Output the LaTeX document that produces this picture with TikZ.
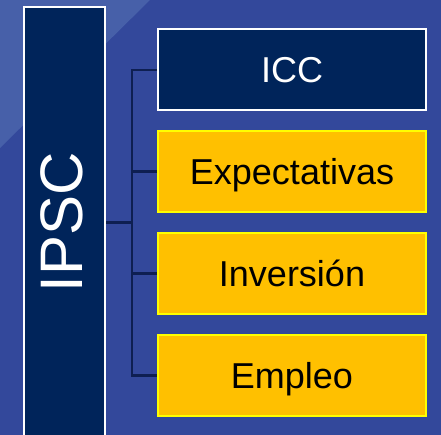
\documentclass[tikz,border=0pt]{standalone}
\usepackage{fontspec}
\setmainfont{Liberation Sans}
\definecolor{bgblue}{HTML}{33489B}
\definecolor{bglight}{HTML}{4760A9}
\definecolor{navy}{HTML}{00245A}
\definecolor{linenavy}{HTML}{0E1F52}
\definecolor{gold}{HTML}{FFC000}
\definecolor{brightyellow}{HTML}{FFFF00}
\begin{document}
\begin{tikzpicture}[x=1pt,y=-1pt]
			\tikzset{box/.style={draw,line width=2pt,minimum width=268pt,minimum height=81pt,inner sep=0pt,text height=25.8pt,text depth=0pt,font=\fontsize{36}{40}\selectfont},
				darkbox/.style={box,fill=navy,draw=white,text=white},
				goldbox/.style={box,fill=gold,draw=brightyellow,text=black},
				link/.style={draw=linenavy,line width=2.5pt}}
			\useasboundingbox (0,0) rectangle (441,435);
			\clip (0,0) rectangle (441,435);
			\fill[bgblue] (0,0) rectangle (441,435);
			\fill[bglight] (0,0) -- (150,0) -- (0,148) -- cycle;
			% left column
			\node [draw=white,line width=2pt,fill=navy,minimum width=81pt,minimum height=431pt,inner sep=0pt] (ipsc) at (64.5,222.5) {};
			\node [rotate=90,text=white,inner sep=0pt,text height=43pt,text depth=0pt,font=\fontsize{60}{66}\selectfont] (ipsctext) at ([xshift=-4pt]ipsc.center) {IPSC};
			% right column
			\node [darkbox] (icc) at (292,70) {ICC};
			\node [goldbox] (expect) at (292,171.5) {Expectativas};
			\node [goldbox] (inversion) at (292,273.5) {Inversión};
			\node [goldbox] (empleo) at (292,375.5) {Empleo};
			\coordinate (trunk) at (132,0);
			\draw [link] (icc.west) -- (icc.west -| trunk) -- (empleo.west -| trunk) -- (empleo.west);
			\foreach \n in {expect,inversion}
				\draw [link] (\n.west) -- (\n.west -| trunk);
			\draw [link] (ipsc.east) -- (ipsc.east -| trunk);
		\end{tikzpicture}
\end{document}
